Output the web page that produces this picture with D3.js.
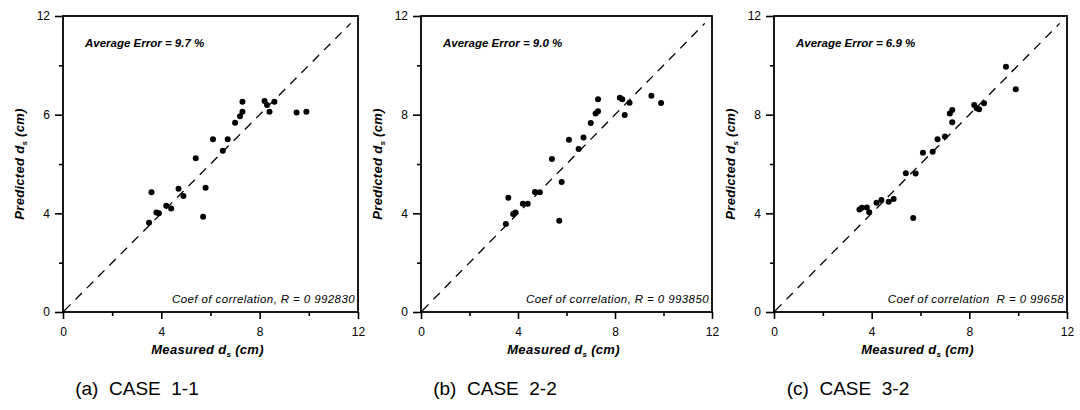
<!DOCTYPE html>
<html>
<head>
<meta charset="utf-8">
<script src="https://cdn.jsdelivr.net/npm/d3@7"></script>
<style>
  body { margin: 0; background: #fff; }
  svg { display: block; font-family: "Liberation Sans", Arial, sans-serif; }
</style>
</head>
<body>
<div id="chart"></div>
<script>
// measured scour depth (same for every case), cm
var measured = [3.5, 3.6, 3.8, 3.9, 4.2, 4.4, 4.7, 4.9, 5.4, 5.7, 5.8, 6.1,
                6.5, 6.7, 7.0, 7.2, 7.3, 7.3, 8.2, 8.3, 8.4, 8.6, 9.5, 9.9];

// predicted values per case
var predictedA = [3.62, 4.85, 4.03, 4.0, 4.31, 4.2, 5.0, 4.7, 6.23, 3.86, 5.04, 7.0,
                  6.54, 7.0, 7.67, 7.94, 8.12, 8.52, 8.55, 8.39, 8.12, 8.52, 8.09, 8.12];
var predictedB = [3.57, 4.63, 3.97, 4.03, 4.39, 4.39, 4.86, 4.85, 6.2, 3.7, 5.27, 6.98,
                  6.61, 7.07, 7.66, 8.05, 8.14, 8.63, 8.69, 8.62, 7.99, 8.48, 8.77, 8.47];
var predictedC = [4.16, 4.23, 4.24, 4.04, 4.43, 4.54, 4.47, 4.58, 5.62, 3.81, 5.61, 6.46,
                  6.5, 7.0, 7.11, 8.05, 8.19, 7.69, 8.39, 8.26, 8.22, 8.46, 9.94, 9.03];

var majorTicks = [0, 4, 8, 12];
var minorTicks = [2, 6, 10];
var xTickLabels = ["0", "4", "8", "12"];
var yTickLabelsA = ["0", "4", "6", "12"];
var yTickLabelsB = ["0", "4", "8", "12"];
var yTickLabelsC = ["0", "4", "8", "12"];

var captions = ["(a)\u00a0 CASE\u00a0 1-1", "(b)\u00a0 CASE\u00a0 2-2", "(c)\u00a0 CASE\u00a0 3-2"];
var avgErrors = ["Average Error = 9.7 %", "Average Error = 9.0 %", "Average Error = 6.9 %"];
var coefTexts = ["Coef of correlation, R = 0 992830",
                 "Coef of correlation, R = 0 993850",
                 "Coef of correlation\u00a0 R = 0 99658"];

var panels = [
  {left: 63, right: 358, pred: predictedA, yLabels: yTickLabelsA},
  {left: 421, right: 712, pred: predictedB, yLabels: yTickLabelsB},
  {left: 774, right: 1067, pred: predictedC, yLabels: yTickLabelsC}
];
var plotTop = 16, plotBottom = 312;

var svg = d3.select("#chart").append("svg")
    .attr("width", 1080)
    .attr("height", 410);

panels.forEach(function(p, i) {
  var x = d3.scaleLinear().domain([0, 12]).range([p.left, p.right]);
  var y = d3.scaleLinear().domain([0, 12]).range([plotBottom, plotTop]);
  var g = svg.append("g");

  // minor ticks
  g.append("g")
      .attr("transform", "translate(0," + plotBottom + ")")
      .call(d3.axisBottom(x).tickValues(minorTicks).tickSize(4).tickFormat(""))
      .call(function(a) { a.select(".domain").remove(); });
  g.append("g")
      .attr("transform", "translate(" + p.left + ",0)")
      .call(d3.axisLeft(y).tickValues(minorTicks).tickSize(4).tickFormat(""))
      .call(function(a) { a.select(".domain").remove(); });

  // major ticks + labels
  var xa = g.append("g")
      .attr("transform", "translate(0," + plotBottom + ")")
      .call(d3.axisBottom(x).tickValues(majorTicks).tickSize(7).tickPadding(8)
        .tickFormat(function(d, k) { return xTickLabels[k]; }));
  var ya = g.append("g")
      .attr("transform", "translate(" + p.left + ",0)")
      .call(d3.axisLeft(y).tickValues(majorTicks).tickSize(8).tickPadding(5)
        .tickFormat(function(d, k) { return p.yLabels[k]; }));
  [xa, ya].forEach(function(a) {
    a.select(".domain").remove();
    a.selectAll("text").attr("font-size", 12).attr("fill", "#000")
      .attr("font-family", "Liberation Sans, Arial, sans-serif");
  });
  g.selectAll(".tick line").attr("stroke", "#000").attr("stroke-width", 1.6);

  // frame
  g.append("rect")
      .attr("x", p.left).attr("y", plotTop)
      .attr("width", p.right - p.left).attr("height", plotBottom - plotTop)
      .attr("fill", "none").attr("stroke", "#000").attr("stroke-width", 1.8);

  // 1:1 line
  g.append("line")
      .attr("x1", x(0.05)).attr("y1", y(0.05))
      .attr("x2", x(11.7)).attr("y2", y(11.7))
      .attr("stroke", "#000").attr("stroke-width", 1.3)
      .attr("stroke-dasharray", "9,7");

  // points
  g.selectAll("circle.pt")
    .data(measured.map(function(m, k) { return [m, p.pred[k]]; }))
    .enter().append("circle")
      .attr("class", "pt")
      .attr("cx", function(d) { return x(d[0]); })
      .attr("cy", function(d) { return y(d[1]); })
      .attr("r", 3)
      .attr("fill", "#000");

  // annotations
  g.append("text")
      .attr("x", p.left + 22).attr("y", plotTop + 31)
      .attr("font-size", 11.5).attr("font-weight", "bold").attr("font-style", "italic")
      .text(avgErrors[i]);
  g.append("text")
      .attr("x", p.right - 3).attr("y", plotBottom - 9)
      .attr("text-anchor", "end")
      .attr("font-size", 11.5).attr("font-style", "italic")
      .attr("letter-spacing", 0.4)
      .text(coefTexts[i]);

  // axis titles
  var cx = (p.left + p.right) / 2 - 3;
  var xt = g.append("text")
      .attr("x", cx).attr("y", 354)
      .attr("text-anchor", "middle")
      .attr("font-size", 13).attr("font-weight", "bold").attr("font-style", "italic")
      .attr("letter-spacing", 0.3);
  xt.append("tspan").text("Measured d");
  xt.append("tspan").attr("font-size", 8).attr("dy", 3).text("s");
  xt.append("tspan").attr("dy", -3).text(" (cm)");

  var yt = g.append("text")
      .attr("transform", "translate(" + (p.left - 39) + "," + ((plotTop + plotBottom) / 2) + ") rotate(-90)")
      .attr("text-anchor", "middle")
      .attr("font-size", 13).attr("font-weight", "bold").attr("font-style", "italic")
      .attr("letter-spacing", 0.3);
  yt.append("tspan").text("Predicted d");
  yt.append("tspan").attr("font-size", 8).attr("dy", 3).text("s");
  yt.append("tspan").attr("dy", -3).text(" (cm)");

  // caption
  svg.append("text")
      .attr("x", p.left + 74).attr("y", 395)
      .attr("text-anchor", "middle")
      .attr("font-size", 19)
      .text(captions[i]);
});
</script>
</body>
</html>
